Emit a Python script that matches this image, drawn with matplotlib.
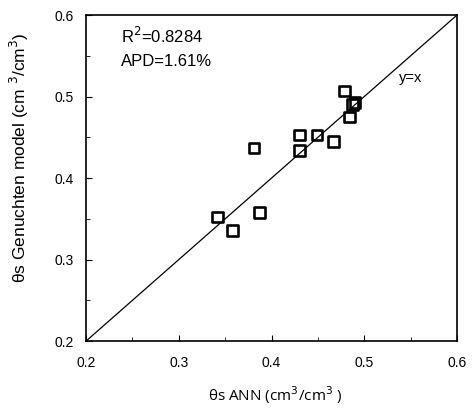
import numpy as np
import matplotlib.pyplot as plt
from matplotlib.ticker import MultipleLocator

# theta_s: ANN prediction vs van Genuchten model
ann = [0.4785, 0.487, 0.490, 0.484, 0.430, 0.449, 0.430, 0.467, 0.381, 0.387, 0.3416, 0.358]
genuchten = [0.507, 0.490, 0.493, 0.475, 0.453, 0.453, 0.4335, 0.4446, 0.437, 0.358, 0.3525, 0.336]
r2_text = "R$^2$=0.8284"
apd_text = "APD=1.61%"

plt.rcParams['font.family'] = ['Liberation Sans', 'DejaVu Sans']

fig = plt.figure(figsize=(4.76, 4.11), dpi=100)
ax = fig.add_axes([0.1807, 0.170, 0.7795, 0.7935])

ax.plot([0.2, 0.6], [0.2, 0.6], color='black', linewidth=0.9)
ax.scatter(ann, genuchten, marker='s', s=58, facecolors='none',
           edgecolors='black', linewidths=1.9, zorder=3)

ax.set_xlim(0.2, 0.6)
ax.set_ylim(0.2, 0.6)
ax.xaxis.set_major_locator(MultipleLocator(0.1))
ax.yaxis.set_major_locator(MultipleLocator(0.1))
ax.xaxis.set_minor_locator(MultipleLocator(0.05))
ax.yaxis.set_minor_locator(MultipleLocator(0.05))
ax.tick_params(which='both', direction='in', labelsize=10)
ax.tick_params(which='major', length=4)
ax.tick_params(which='minor', length=3)
ax.tick_params(axis='x', which='both', pad=11)
ax.tick_params(axis='y', which='both', pad=9)
for s in ax.spines.values():
    s.set_linewidth(1.2)

ax.text(0.238, 0.5656, r2_text, fontsize=12, va='baseline')
ax.text(0.238, 0.5374, apd_text, fontsize=12, va='baseline')
ax.text(0.537, 0.5227, "y=x", fontsize=10.5, va='center')

ax.set_xlabel("θs ANN (cm$^3$/cm$^3$ )", fontsize=11, family=['Open Sans', 'DejaVu Sans'])
ax.set_ylabel("θs Genuchten model (cm $^3$/cm$^3$)", fontsize=12.5)
ax.xaxis.set_label_coords(0.509, -0.132)
ax.yaxis.set_label_coords(-0.148, 0.561)

fig.savefig("out.png", dpi=100)
